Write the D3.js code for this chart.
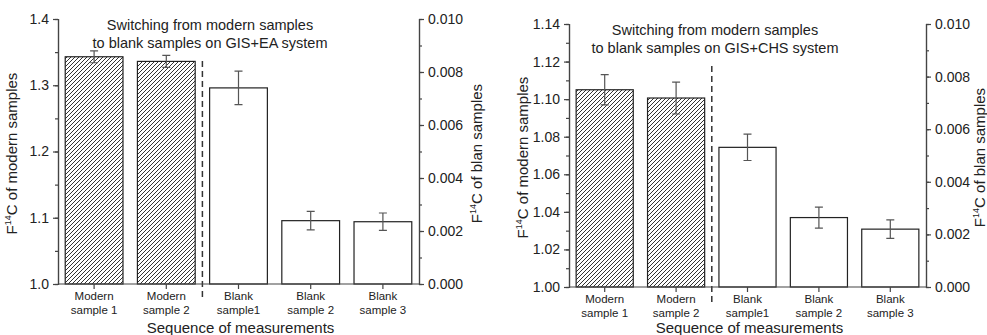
<!DOCTYPE html>
<html>
<head>
<meta charset="utf-8">
<script src="https://cdn.jsdelivr.net/npm/d3@7"></script>
<style>
  body { margin: 0; background: #fff; }
  svg { display: block; font-family: "Liberation Sans", Arial, sans-serif; }
  text { fill: #222; }
</style>
</head>
<body>
<svg id="chart" width="987" height="335"></svg>
<script>
// categories along the x axis (line break = "\n")
const categories = ['Modern\nsample 1', 'Modern\nsample 2', 'Blank\nsample1', 'Blank\nsample 2', 'Blank\nsample 3'];

// GIS+EA panel
const modernEA = [1.343, 1.336];
const modernEAErr = [0.009, 0.009];
const blankEA = [0.0074, 0.00239, 0.00235];
const blankEAErr = [0.00063, 0.00035, 0.00033];
const leftTicksEA = [1.0, 1.1, 1.2, 1.3, 1.4];

// GIS+CHS panel
const modernCHS = [1.105, 1.1006];
const modernCHSErr = [0.008, 0.0085];
const blankCHS = [0.00531, 0.00264, 0.0022];
const blankCHSErr = [0.0005, 0.0004, 0.00035];
const leftTicksCHS = [1.00, 1.02, 1.04, 1.06, 1.08, 1.10, 1.12, 1.14];

const rightTicks = [0.000, 0.002, 0.004, 0.006, 0.008, 0.010];

const svg = d3.select('#chart');

// hatch pattern for modern samples
svg.append('defs').append('pattern')
    .attr('id', 'hatch')
    .attr('patternUnits', 'userSpaceOnUse')
    .attr('width', 4)
    .attr('height', 4)
  .append('path')
    .attr('d', 'M-1,1 l2,-2 M0,4 l4,-4 M3,5 l2,-2')
    .attr('stroke', '#333')
    .attr('stroke-width', 1);

function yLabel(g, x, y, rot, txt) {
  const t = g.append('text')
      .attr('transform', `translate(${x},${y}) rotate(${rot})`)
      .attr('text-anchor', 'middle')
      .attr('font-size', 15);
  t.append('tspan').text('F');
  t.append('tspan').attr('font-size', 9).attr('dy', -6).text('14');
  t.append('tspan').attr('dy', 6).text(txt);
}

function drawPanel(p) {
  const g = svg.append('g');
  const x = d3.scaleBand().domain(categories)
      .range([p.left, p.right]).paddingInner(0.2).paddingOuter(0.1);
  const yL = d3.scaleLinear().domain(d3.extent(p.leftTicks)).range([p.bottom, p.top]);
  const yR = d3.scaleLinear().domain(d3.extent(rightTicks)).range([p.bottom, p.top]);

  const modern = p.modern.map((v, i) => ({ cat: categories[i], v, e: p.modernErr[i] }));
  const blank = p.blank.map((v, i) => ({ cat: categories[i + 2], v, e: p.blankErr[i] }));

  // bars
  g.selectAll('.mbar').data(modern).join('rect')
      .attr('x', (d) => x(d.cat))
      .attr('width', x.bandwidth())
      .attr('y', (d) => yL(d.v))
      .attr('height', (d) => yL.range()[0] - yL(d.v))
      .attr('fill', 'url(#hatch)')
      .attr('stroke', '#222')
      .attr('stroke-width', 1.2);
  g.selectAll('.bbar').data(blank).join('rect')
      .attr('x', (d) => x(d.cat))
      .attr('width', x.bandwidth())
      .attr('y', (d) => yR(d.v))
      .attr('height', (d) => yR.range()[0] - yR(d.v))
      .attr('fill', '#fff')
      .attr('stroke', '#222')
      .attr('stroke-width', 1.2);

  // error bars
  const errs = modern.map((d) => ({ d, y: yL })).concat(blank.map((d) => ({ d, y: yR })));
  errs.forEach(({ d, y }) => {
    const cx = x(d.cat) + x.bandwidth() / 2;
    const path = d3.path();
    path.moveTo(cx, y(d.v + d.e)); path.lineTo(cx, y(d.v - d.e));
    path.moveTo(cx - 4, y(d.v + d.e)); path.lineTo(cx + 4, y(d.v + d.e));
    path.moveTo(cx - 4, y(d.v - d.e)); path.lineTo(cx + 4, y(d.v - d.e));
    g.append('path').attr('d', path.toString())
        .attr('stroke', '#555').attr('stroke-width', 1.2).attr('fill', 'none');
  });

  // dashed divider between modern and blank samples
  const divX = x(categories[2]) - (x.step() - x.bandwidth()) / 2;
  g.append('line')
      .attr('x1', divX).attr('x2', divX)
      .attr('y1', p.top + 42).attr('y2', p.bottom + 17)
      .attr('stroke', '#333').attr('stroke-width', 1.5)
      .attr('stroke-dasharray', '6,4');

  // axes
  const minorL = d3.range(0, p.leftTicks.length * 2 - 1).map((i) => p.leftTicks[0] + i * (p.leftTicks[1] - p.leftTicks[0]) / 2);
  g.append('g').attr('transform', `translate(${p.left},0)`)
      .call(d3.axisLeft(yL).tickValues(minorL).tickSize(3).tickFormat(''));
  g.append('g').attr('transform', `translate(${p.left},0)`)
      .call(d3.axisLeft(yL).tickValues(p.leftTicks).tickSize(5).tickPadding(4)
        .tickFormat(d3.format(p.fmt)));

  const minorR = d3.range(0, 11).map((i) => i * 0.001);
  g.append('g').attr('transform', `translate(${p.right},0)`)
      .call(d3.axisRight(yR).tickValues(minorR).tickSize(3).tickFormat(''));
  g.append('g').attr('transform', `translate(${p.right},0)`)
      .call(d3.axisRight(yR).tickValues(rightTicks).tickSize(5).tickPadding(4)
        .tickFormat(d3.format('.3f')));

  g.append('g').attr('transform', `translate(0,${p.bottom})`)
      .call(d3.axisBottom(x).tickSize(5).tickFormat(''))
      .call((s) => s.select('.domain').attr('d', `M${p.left},0H${p.right}`));

  g.selectAll('.domain, .tick line').attr('stroke', '#444').attr('stroke-width', 1.2);
  g.selectAll('.tick text').attr('font-size', 14).attr('fill', '#222')
      .attr('font-family', '"Liberation Sans", Arial, sans-serif');

  // category labels (two lines)
  categories.forEach((c) => {
    const cx = x(c) + x.bandwidth() / 2;
    const t = g.append('text').attr('text-anchor', 'middle').attr('font-size', 11.5);
    c.split('\n').forEach((line, i) => {
      t.append('tspan').attr('x', cx).attr('y', p.bottom + 16 + i * 13.5).text(line);
    });
  });

  const cxm = (p.left + p.right) / 2;
  g.append('text').attr('x', cxm + 2).attr('y', 333)
      .attr('text-anchor', 'middle').attr('font-size', 15)
      .text('Sequence of measurements');

  // title
  g.append('text').attr('x', p.titleX).attr('y', p.top + 11)
      .attr('text-anchor', 'middle').attr('font-size', 14.5)
      .text('Switching from modern samples');
  g.append('text').attr('x', p.titleX).attr('y', p.top + 29)
      .attr('text-anchor', 'middle').attr('font-size', 14.5)
      .text(p.title2);

  yLabel(g, p.left - 41, (p.top + p.bottom) / 2 + 2, -90, 'C of modern samples');
  yLabel(g, p.right + p.rLabelOff, (p.top + p.bottom) / 2 + 2, -90, 'C of blan samples');
}

drawPanel({
  left: 58, right: 419, top: 19, bottom: 284, rLabelOff: 63,
  leftTicks: leftTicksEA, fmt: '.1f',
  modern: modernEA, modernErr: modernEAErr, blank: blankEA, blankErr: blankEAErr,
  titleX: 210, title2: 'to blank samples on GIS+EA system'
});

drawPanel({
  left: 569, right: 926, top: 24, bottom: 287, rLabelOff: 59,
  leftTicks: leftTicksCHS, fmt: '.2f',
  modern: modernCHS, modernErr: modernCHSErr, blank: blankCHS, blankErr: blankCHSErr,
  titleX: 715, title2: 'to blank samples on GIS+CHS system'
});
</script>
</body>
</html>
